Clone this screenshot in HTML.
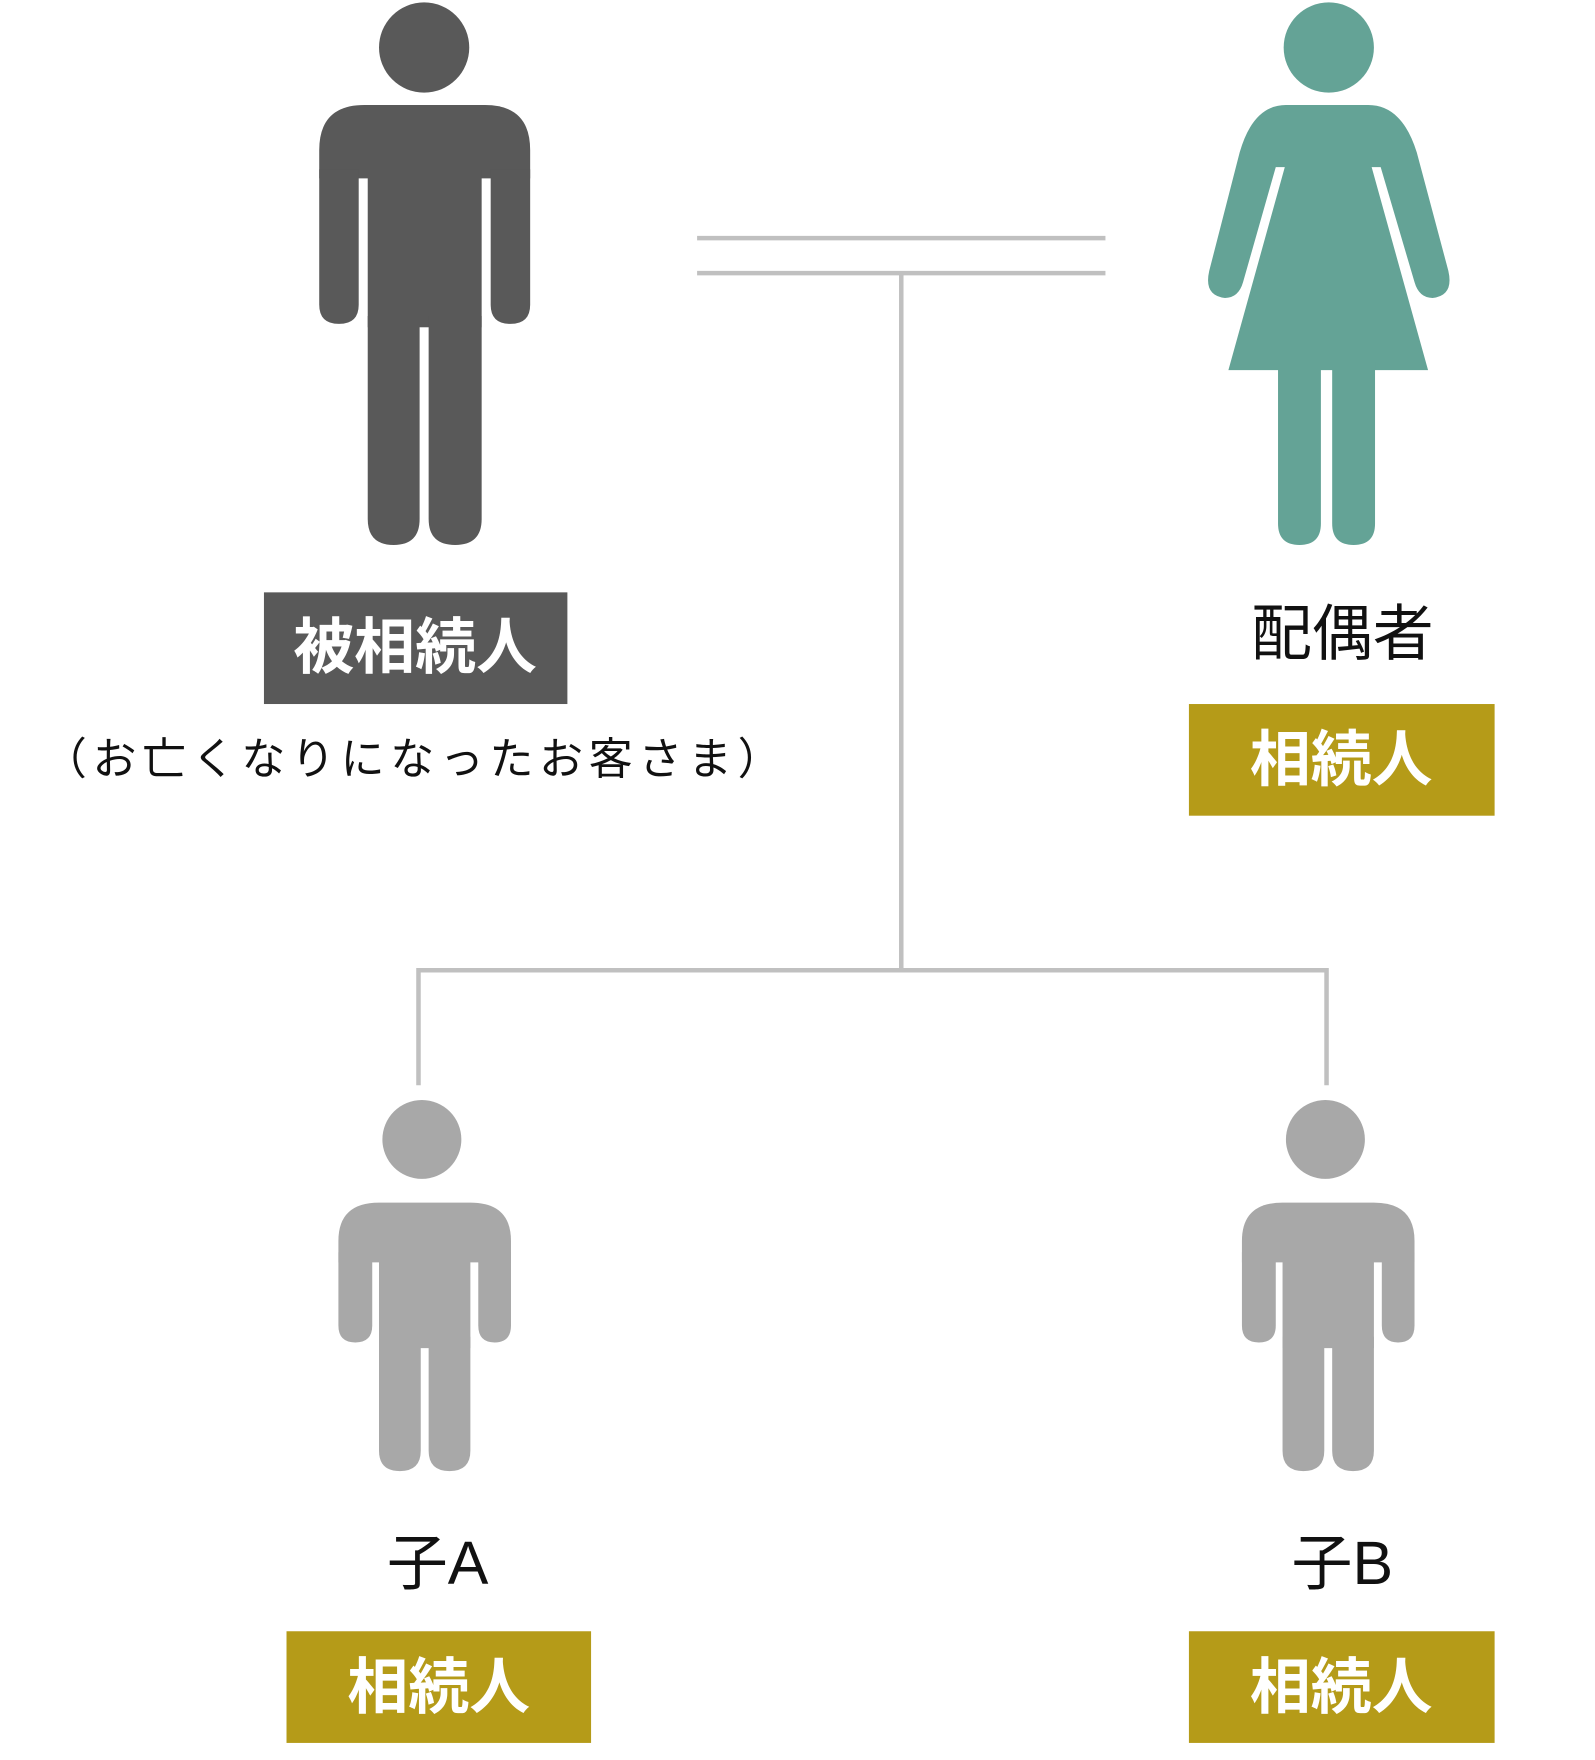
<!DOCTYPE html>
<html><head><meta charset="utf-8"><style>
html,body{margin:0;padding:0;background:#fff;}
svg{display:block;}
text{font-family:"Liberation Sans","Noto Sans CJK JP",sans-serif;}
</style></head><body>
<svg width="1595" height="1760" viewBox="0 0 1414 1560" xmlns="http://www.w3.org/2000/svg">
<g stroke="#c0c0c0" stroke-width="4" fill="none">
<line x1="618" y1="211" x2="980" y2="211"/>
<line x1="618" y1="242" x2="980" y2="242"/>
<line x1="799" y1="242" x2="799" y2="860"/>
<polyline points="371,962 371,860 1176,860 1176,962"/>
</g>
<g fill="#595959">
<circle cx="376" cy="42" r="40"/>
<path d="M323,93 H430 Q470,93 470,133 V158 H283 V133 Q283,93 323,93 Z"/>
<path d="M283,150 H318 V270 Q318,287 300.5,287 Q283,287 283,270 Z"/>
<path d="M435,150 H470 V270 Q470,287 452.5,287 Q435,287 435,270 Z"/>
<rect x="326" y="150" width="101" height="140"/>
<path d="M326,280 H372 V460 Q372,483 349,483 Q326,483 326,460 Z"/>
<path d="M380,280 H427 V460 Q427,483 403.5,483 Q380,483 380,460 Z"/>
</g>
<g fill="#64a396">
<circle cx="1178" cy="42" r="40"/>
<path d="M1140,93 H1213 Q1243,93 1256,135 L1284,240 Q1289,262 1270,264 Q1258,264 1254,250 L1224,148 H1216 L1266,328 H1089 L1139,148 H1131 L1102,250 Q1098,264 1086,264 Q1067,262 1072,240 L1099,135 Q1111,93 1140,93 Z"/>
<path d="M1133,320 H1171 V464 Q1171,483 1152,483 Q1133,483 1133,464 Z"/>
<path d="M1181,320 H1219 V464 Q1219,483 1200,483 Q1181,483 1181,464 Z"/>
</g>
<g fill="#a8a8a8">
<g id="kid">
<circle cx="374" cy="1010" r="35"/>
<path d="M336,1066 H417 Q453,1066 453,1100 V1119 H300 V1100 Q300,1066 336,1066 Z"/>
<path d="M300,1110 H330 V1175 Q330,1190 315,1190 Q300,1190 300,1175 Z"/>
<path d="M424,1110 H453 V1175 Q453,1190 438.5,1190 Q424,1190 424,1175 Z"/>
<rect x="336" y="1110" width="81" height="85"/>
<path d="M336,1185 H373 V1286 Q373,1304 354.5,1304 Q336,1304 336,1286 Z"/>
<path d="M380,1185 H417 V1286 Q417,1304 398.5,1304 Q380,1304 380,1286 Z"/>
</g>
<use href="#kid" x="801"/>
</g>
<rect x="234" y="525" width="269" height="99" fill="#595959"/>
<text x="368" y="592" font-size="54" font-weight="bold" fill="#fff" text-anchor="middle">被相続人</text>
<text x="368" y="686" font-size="39" letter-spacing="5" fill="#111" text-anchor="middle">（お亡くなりになったお客さま）</text>
<text x="1190" y="580" font-size="54" fill="#111" text-anchor="middle">配偶者</text>
<rect x="1054" y="624" width="271" height="99" fill="#b59b18"/>
<text x="1189" y="692" font-size="54" font-weight="bold" fill="#fff" text-anchor="middle">相続人</text>
<text x="388" y="1404" font-size="54" fill="#111" text-anchor="middle">子A</text>
<text x="1190" y="1404" font-size="54" fill="#111" text-anchor="middle">子B</text>
<rect x="254" y="1446" width="270" height="99" fill="#b59b18"/>
<text x="389" y="1514" font-size="54" font-weight="bold" fill="#fff" text-anchor="middle">相続人</text>
<rect x="1054" y="1446" width="271" height="99" fill="#b59b18"/>
<text x="1189" y="1514" font-size="54" font-weight="bold" fill="#fff" text-anchor="middle">相続人</text>
</svg>
</body></html>
